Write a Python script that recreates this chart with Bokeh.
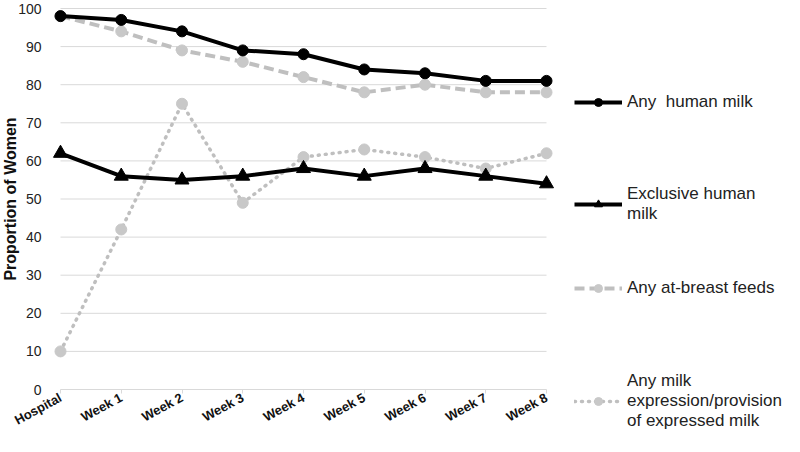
import math
from bokeh.plotting import figure
from bokeh.models import Range1d, FixedTicker, Legend, LegendItem, Label
from bokeh.embed import file_html
from bokeh.resources import INLINE

categories = ["Hospital", "Week 1", "Week 2", "Week 3", "Week 4", "Week 5", "Week 6", "Week 7", "Week 8"]
any_human_milk = [98, 97, 94, 89, 88, 84, 83, 81, 81]
exclusive_human_milk = [62, 56, 55, 56, 58, 56, 58, 56, 54]
any_at_breast = [98, 94, 89, 86, 82, 78, 80, 78, 78]
any_expression = [10, 42, 75, 49, 61, 63, 61, 58, 62]
y_ticks = [0, 10, 20, 30, 40, 50, 60, 70, 80, 90, 100]
legend_labels = ["Any  human milk", "Exclusive human\nmilk", "Any at-breast feeds",
                 "Any milk\nexpression/provision\nof expressed milk"]
y_label = "Proportion of Women"

FONT = "Liberation Sans"
xs = list(range(len(categories)))
n = len(categories) - 1

W, H = 784, 436
# pixel layout of the plotting area (frame = whole figure)
x0_px, xn_px = 60, 546         # x of first / last category from left
y100_px, y0_px = 8, 389        # y of 100 / 0 from top
ppx = (xn_px - x0_px) / n
ppy = (y0_px - y100_px) / 100

x_range = Range1d(-x0_px / ppx, n + (W - xn_px) / ppx)
y_range = Range1d(-(H - y0_px) / ppy, 100 + y100_px / ppy)

p = figure(width=W, height=H, output_backend="svg", toolbar_location=None,
           x_range=x_range, y_range=y_range, min_border=0,
           min_border_left=0, min_border_right=0, min_border_top=0, min_border_bottom=0)
p.outline_line_color = None
p.background_fill_color = "white"

# x axis, drawn at y = 0 inside the plot area
p.xaxis.fixed_location = 0
p.xaxis.ticker = FixedTicker(ticks=xs)
p.xaxis.bounds = (0, n)
p.xaxis.major_label_overrides = {i: c for i, c in enumerate(categories)}
p.xaxis.major_label_orientation = 0.5
p.xaxis.major_label_text_font = FONT
p.xaxis.major_label_text_font_style = "bold"
p.xaxis.major_label_text_font_size = "13px"
p.xaxis.major_label_text_color = "#111111"
p.xaxis.axis_line_color = "#d9d9d9"
p.xaxis.major_tick_line_color = "#d9d9d9"
p.xaxis.major_tick_out = 4
p.xaxis.major_tick_in = 0
p.xaxis.minor_tick_line_color = None
p.xaxis.major_label_standoff = 3

# y axis, drawn at x = 0 inside the plot area
p.yaxis.fixed_location = 0
p.yaxis.ticker = FixedTicker(ticks=y_ticks)
p.yaxis.bounds = (0, 100)
p.yaxis.axis_line_color = None
p.yaxis.major_tick_line_color = None
p.yaxis.minor_tick_line_color = None
p.yaxis.major_label_text_font = FONT
p.yaxis.major_label_text_font_size = "14px"
p.yaxis.major_label_text_color = "#222222"
p.yaxis.major_label_standoff = 13

# y axis title
p.add_layout(Label(x=1, y=(y_ticks[0] + y_ticks[-1]) / 2, x_units="screen", y_units="data",
                   text=y_label, angle=math.pi / 2, text_align="center", text_baseline="top",
                   text_font=FONT, text_font_size="16px", text_font_style="bold",
                   text_color="#111111"))

p.xgrid.grid_line_color = None
p.ygrid.grid_line_color = None

# horizontal grid lines spanning first to last category
grid_y = y_ticks[1:]
p.segment(x0=[0] * len(grid_y), x1=[n] * len(grid_y), y0=grid_y, y1=grid_y,
          line_color="#d9d9d9", line_width=1)

GREY = "#bfbfbf"
MGREY = "#c8c8c8"

# series
r4l = p.line(xs, any_expression, line_color=GREY, line_width=3.5, line_dash="1 6", line_cap="round")
r4m = p.scatter(xs, any_expression, marker="circle", size=11, fill_color=MGREY, line_color=MGREY)
r3l = p.line(xs, any_at_breast, line_color=GREY, line_width=4, line_dash="10 5")
r3m = p.scatter(xs, any_at_breast, marker="circle", size=11, fill_color=MGREY, line_color=MGREY)
r2l = p.line(xs, exclusive_human_milk, line_color="black", line_width=4)
r2m = p.scatter(xs, exclusive_human_milk, marker="triangle", size=14, fill_color="black", line_color="black")
r1l = p.line(xs, any_human_milk, line_color="black", line_width=4)
r1m = p.scatter(xs, any_human_milk, marker="circle", size=11, fill_color="black", line_color="black")

renderer_sets = [[r1l, r1m], [r2l, r2m], [r3l, r3m], [r4l, r4m]]
legend_pos = [(574, 324), (574, 212), (574, 138), (574, 5)]
for lab, rs, loc in zip(legend_labels, renderer_sets, legend_pos):
    lg = Legend(items=[LegendItem(label=lab, renderers=rs)], location=loc,
                padding=0, margin=0, border_line_color=None, background_fill_alpha=0,
                glyph_width=48, glyph_height=20, label_standoff=5,
                label_text_font=FONT, label_text_font_size="17px", label_text_color="#222222")
    p.add_layout(lg, "center")

open("out.html", "w").write(file_html(p, INLINE))
